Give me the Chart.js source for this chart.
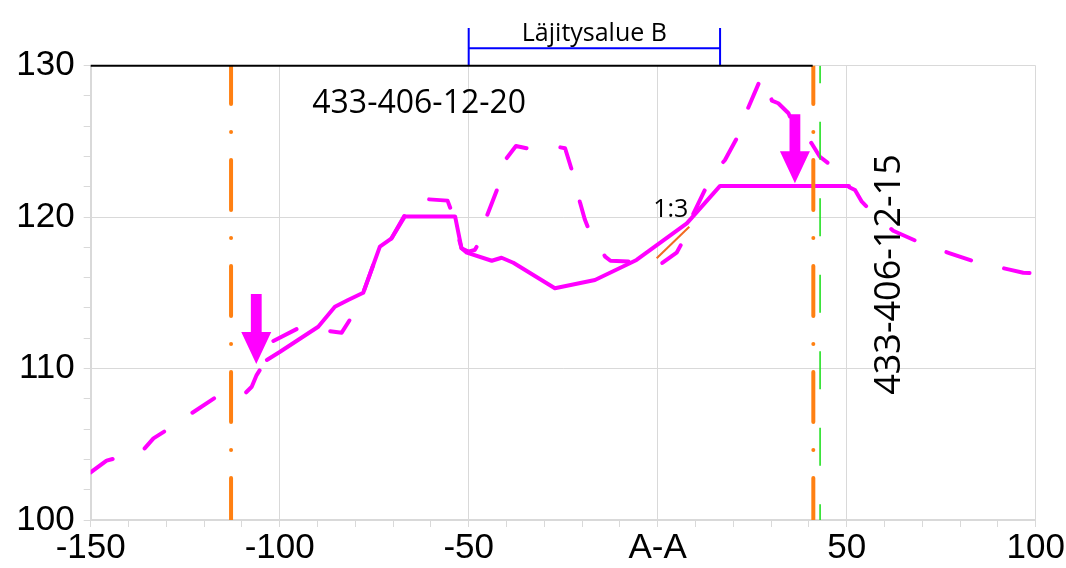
<!DOCTYPE html>
<html>
<head>
<meta charset="utf-8">
<script src="https://cdn.jsdelivr.net/npm/chart.js@4.4.1/dist/chart.umd.min.js"></script>
<style>
  html, body { margin: 0; padding: 0; background: #ffffff; }
  #wrap { width: 1066px; height: 568px; }
</style>
</head>
<body>
<div id="wrap"><canvas id="c" width="1066" height="568"></canvas></div>
<script>
// ---- Data ----
// Existing ground profile (dashed magenta)
const groundX = [-150, -145.8, -143.6, -136.1, -133.4, -129.9, -123.3, -116.7, -113, -109.6, -107.4, -106.1, -104.8, -103.0,
  -102.1, -95.1, -87.6, -83.6, -81.2, -77.9, -73.5, -70.4, -66.9, -64, -60.9, -55.6, -54.5, -51.9, -50.1, -48.4, -47.5,
  -45.2, -42.2, -40.0, -37.5, -33.3, -25.8, -24.5, -22.5, -20.6, -19.3, -18.1, -13.9, -12.5, -5.9, 1.1, 5.0, 6.6, 9.4,
  13.0, 16.9, 17.8, 20.9, 23.5, 26.9, 28.3, 30.2, 31.9, 34.6, 35.0, 40.7, 42.9, 46.5, 48.5, 50.4, 52.2, 54.0, 56.6,
  62.3, 69.8, 77.3, 84.8, 92.8, 96.7, 100];
const groundY = [103.15, 103.92, 104.07, 104.62, 105.39, 105.94, 107.05, 108.14, 108.3, 108.25, 108.8, 109.57, 110.08, 110.57,
  111.77, 112.66, 112.5, 112.37, 113.32, 115.01, 118.05, 118.6, 120.14, 121.2, 121.18, 121.09, 120.36, 117.94, 117.72, 117.83, 118.22,
  120.07, 122.01, 123.88, 124.7, 124.48, 124.61, 124.55, 122.93, 121.02, 119.86, 119.1, 117.39, 117.12, 117.06, 116.95, 117.65, 118.38, 120.21,
  122.06, 123.51, 123.77, 125.2, 126.96, 128.94, 129.3, 127.69, 127.52, 126.86, 126.63, 124.88, 123.99, 123.29, 122.3, 122.01, 121.79, 121.02, 120.36,
  119.1, 118.27, 117.61, 116.99, 116.55, 116.33, 116.29];

// Design surface (solid magenta)
const designX = [-103.4, -99.9, -89.8, -85.4, -81.9, -77.9, -73.5, -70.4, -66.9, -53.6, -51.9, -50.5, -43.9, -41.3, -38.2, -27.2, -16.6, -5.6, 7.7, 16.5, 50.6];
const designY = [110.57, 111.11, 112.76, 114.08, 114.53, 115.01, 118.05, 118.6, 120.05, 120.05, 117.94, 117.65, 117.12, 117.32, 116.99, 115.3, 115.85, 117.17, 119.59, 122.06, 122.06];

// Property boundaries (orange dash-dot) and green boundary
const boundaryX = [-112.87, 41.17];
const greenX = [42.96];
// Top black line
const topLineX = [-150, 41];
const topLineY = [130, 130];
// Slope marker 1:3
const slopeX = [-0.27, 8.36];
const slopeY = [117.28, 119.37];
// Bracket "Läjitysalue B"
const bracketX = [-50, 16.5];
const bracketTopY = 132.49;
const bracketBarY = 131.16;
// Arrows
const arrowX = [-106.2, 36.3];
const arrowTop = [114.93, 126.8];
const arrowTip = [110.3, 122.23];
// Axis
const xMin = -150, xMax = 100, yMin = 100, yMax = 130;
const xMajor = 50, yMajor = 10;
const zeroLabel = 'A-A';
// Texts
const labelArea = 'Läjitysalue B';
const labelLeft = '433-406-12-20';
const labelRight = '433-406-12-15';
const labelSlope = '1:3';

// ---- Build datasets ----
const pts = (xs, ys) => xs.map((v, i) => ({x: v, y: ys[i]}));
const vline = (xv) => [{x: xv, y: yMax}, {x: xv, y: yMin}];

const datasets = [
  { data: pts(topLineX, topLineY), borderColor: '#000000', borderWidth: 2, clip: false, order: 0 },
  { data: [
      {x: bracketX[0], y: bracketTopY}, {x: bracketX[0], y: yMax}, {x: bracketX[0], y: bracketBarY},
      {x: bracketX[1], y: bracketBarY}, {x: bracketX[1], y: bracketTopY}, {x: bracketX[1], y: yMax}
    ], borderColor: '#0000ff', borderWidth: 2, clip: false, order: 0 },
  ...boundaryX.map(b => ({ data: vline(b), borderColor: '#ff8012', borderWidth: 4,
      borderDash: [50, 28, 0.01, 28], borderDashOffset: 11.7, borderCapStyle: 'round', order: 1 })),
  ...greenX.map(g => ({ data: vline(g), borderColor: '#22e022', borderWidth: 1.6,
      borderDash: [38, 38.5], borderDashOffset: 20.5, order: 1 })),
  { data: pts(slopeX, slopeY), borderColor: '#f26b22', borderWidth: 2, order: 1 },
  { data: pts(designX, designY), borderColor: '#ff00ff', borderWidth: 4, borderJoinStyle: 'round', borderCapStyle: 'round', order: 2 },
  { data: pts(groundX, groundY), borderColor: '#ff00ff', borderWidth: 4, borderDash: [26, 34],
      borderCapStyle: 'round', borderJoinStyle: 'round', order: 3 }
];
datasets.forEach(d => { d.pointRadius = 0; d.fill = false; d.tension = 0; });

const annot = {
  id: 'annot',
  afterDatasetsDraw(chart) {
    const {ctx, scales: {x, y}} = chart;
    ctx.save();
    // arrows
    ctx.fillStyle = '#ff00ff';
    arrowX.forEach((ax, i) => {
      const px = x.getPixelForValue(ax);
      const top = y.getPixelForValue(arrowTop[i]);
      const tip = y.getPixelForValue(arrowTip[i]);
      const headLen = 32, headHalf = 15, shaftHalf = 5.4;
      ctx.beginPath();
      ctx.moveTo(px - shaftHalf, top);
      ctx.lineTo(px + shaftHalf, top);
      ctx.lineTo(px + shaftHalf, tip - headLen);
      ctx.lineTo(px + headHalf, tip - headLen);
      ctx.lineTo(px, tip);
      ctx.lineTo(px - headHalf, tip - headLen);
      ctx.lineTo(px - shaftHalf, tip - headLen);
      ctx.closePath();
      ctx.fill();
    });
    // texts
    ctx.fillStyle = '#000000';
    ctx.textBaseline = 'alphabetic';
    ctx.textAlign = 'center';
    ctx.font = '25px "Open Sans"';
    ctx.fillText(labelArea, x.getPixelForValue((bracketX[0] + bracketX[1]) / 2), y.getPixelForValue(131.63));
    ctx.font = '32px "Open Sans"';
    ctx.fillText(labelLeft, x.getPixelForValue(-63.1), y.getPixelForValue(126.88));
    ctx.font = '25px "Open Sans"';
    ctx.fillText(labelSlope, x.getPixelForValue(3.46), y.getPixelForValue(120.03));
    ctx.save();
    ctx.translate(x.getPixelForValue(64.1), y.getPixelForValue(116.21));
    ctx.rotate(-Math.PI / 2);
    ctx.font = '36px "Open Sans"';
    ctx.fillText(labelRight, 0, 0);
    ctx.restore();
    ctx.restore();
  }
};

const gridCol = '#d9d9d9';
new Chart(document.getElementById('c'), {
  type: 'line',
  data: { datasets },
  plugins: [annot],
  options: {
    responsive: false,
    animation: false,
    devicePixelRatio: 1,
    parsing: true,
    layout: { padding: { top: 65.7, right: 30.3, left: 0, bottom: 0 } },
    plugins: { legend: { display: false }, tooltip: { enabled: false } },
    scales: {
      x: {
        type: 'linear', min: xMin, max: xMax,
        afterFit: s => { s.height = 48; },
        border: { color: gridCol, width: 2 },
        grid: {
          color: c => (c.tick && c.tick.value % xMajor === 0) ? gridCol : 'rgba(0,0,0,0)',
          tickColor: gridCol, tickLength: 7, lineWidth: 1
        },
        ticks: {
          stepSize: 10, autoSkip: false, maxRotation: 0, padding: 0,
          color: '#000000', font: { family: '"Liberation Sans", Arial', size: 35 },
          callback: v => v === 0 ? zeroLabel : (v % xMajor === 0 ? String(v) : '')
        }
      },
      y: {
        min: yMin, max: yMax,
        afterFit: s => { s.width = 90.7; },
        border: { color: gridCol, width: 2 },
        grid: {
          color: c => (c.tick && c.tick.value % yMajor === 0) ? gridCol : 'rgba(0,0,0,0)',
          tickColor: gridCol, tickLength: 7, lineWidth: 1
        },
        ticks: {
          stepSize: 2, autoSkip: false, padding: 9,
          color: '#000000', font: { family: '"Liberation Sans", Arial', size: 35 },
          callback: v => (v % yMajor === 0 ? String(v) : '')
        }
      }
    }
  }
});
</script>
</body>
</html>
